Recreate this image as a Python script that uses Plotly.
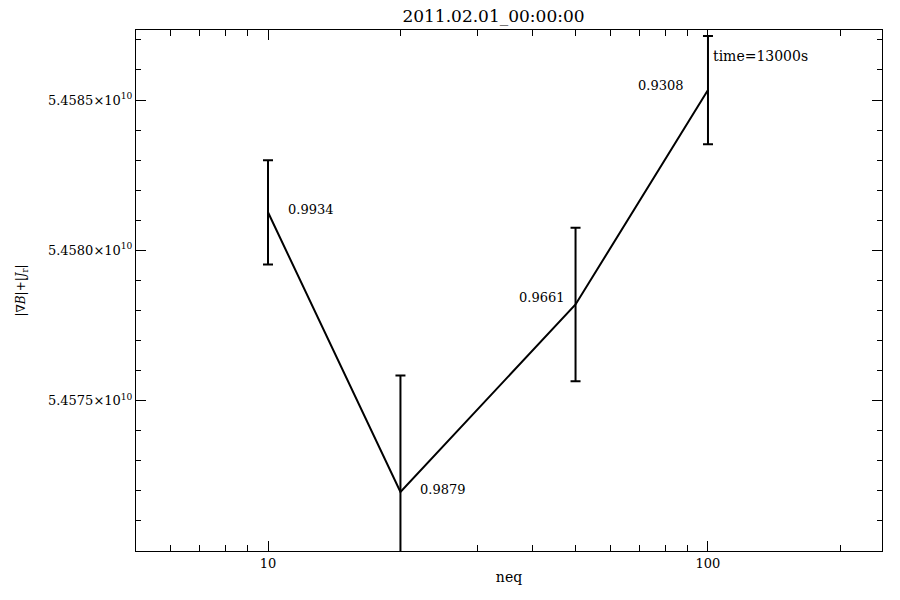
import plotly.graph_objects as go
import numpy as np

neq = [10, 20, 50, 100]
values = [5.45812667e10, 5.45719667e10, 5.4578200e10, 5.4585333e10]
errors = [1.733e6, 3.867e6, 2.55e6, 1.8e6]
labels = ["0.9934", "0.9879", "0.9661", "0.9308"]
ytick_vals = [5.4575e10, 5.4580e10, 5.4585e10]
ytick_text = ["5.4575×10<sup>10</sup>", "5.4580×10<sup>10</sup>", "5.4585×10<sup>10</sup>"]
y_minor = [5.4571e10 + i * 1e6 for i in range(17)]
x_minor = [6, 7, 8, 9, 20, 30, 40, 50, 60, 70, 80, 90, 200]

FONT = "DejaVu Serif"

# label placement style (anchor, xshift, yshift) per point
label_style = [("left", 18, 3), ("left", 18, 2), ("right", -9, 7), ("right", -22, 5)]

fig = go.Figure()
fig.add_trace(go.Scatter(
    x=neq, y=values, mode="lines",
    line=dict(color="black", width=2),
    error_y=dict(type="data", array=errors, visible=True, color="black",
                 thickness=2, width=5),
    showlegend=False,
))

for xv, yv, t, (anc, xs, ys) in zip(neq, values, labels, label_style):
    fig.add_annotation(x=np.log10(xv), y=yv, text=t, showarrow=False,
                       xanchor=anc, xshift=xs, yshift=ys,
                       font=dict(family=FONT, size=13, color="black"))

fig.add_annotation(x=np.log10(100), y=1, xref="x", yref="paper", yshift=-26,
                   yanchor="middle",
                   text="time=13000s", showarrow=False, xanchor="left", xshift=3,
                   font=dict(family=FONT, size=14, color="black"))

fig.update_layout(
    width=892, height=592,
    margin=dict(l=128, r=18, t=22, b=49),
    paper_bgcolor="white", plot_bgcolor="white",
    title=dict(text="2011.02.01_00:00:00", x=485.5 / 892, xanchor="center",
               y=1 - 2 / 592, yanchor="top", pad=dict(t=0, b=0),
               font=dict(family=FONT, size=17, color="black")),
    font=dict(family=FONT, size=13, color="black"),
)
fig.update_xaxes(
    type="log", range=[0.7, 2.3955],
    showline=True, linecolor="black", linewidth=1, mirror="ticks",
    showgrid=False, zeroline=False,
    ticks="inside", ticklen=10, tickcolor="black",
    tickvals=[10, 100], ticktext=["10", "100"],
    minor=dict(ticks="inside", ticklen=6, tickcolor="black", tickvals=x_minor, showgrid=False),
    title=dict(text="neq", font=dict(family=FONT, size=14), standoff=2),
    tickfont=dict(family=FONT, size=13),
)
fig.update_yaxes(
    range=[5.45700e10, 5.458733e10],
    showline=True, linecolor="black", linewidth=1, mirror="ticks",
    showgrid=False, zeroline=False,
    ticks="inside", ticklen=10, tickcolor="black",
    tickvals=ytick_vals, ticktext=ytick_text,
    minor=dict(ticks="inside", ticklen=5, tickcolor="black", tickvals=y_minor, showgrid=False),
    title=dict(text="|∇<i>B</i>|+|<i>J</i><sub>r</sub>|", font=dict(family=FONT, size=12), standoff=19),
    tickfont=dict(family=FONT, size=13),
)

fig.write_html("out.html")
